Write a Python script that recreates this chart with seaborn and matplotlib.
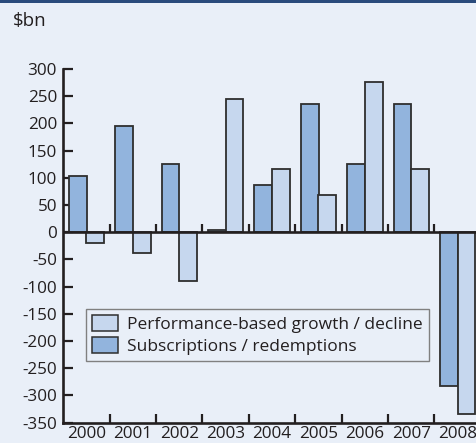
import numpy as np
import pandas as pd
import seaborn as sns
import matplotlib.pyplot as plt
from matplotlib.patches import Patch, Rectangle

# values ($bn)
years = ['2000', '2001', '2002', '2003', '2004', '2005', '2006', '2007', '2008']
subscriptions = [104, 195, 125, 5, 86, 235, 125, 236, -282]
performance = [-20, -38, -89, 245, 116, 68, 277, 117, -334]
y_ticks = list(range(-350, 301, 50))

subs_label = 'Subscriptions / redemptions'
perf_label = 'Performance-based growth / decline'

bg = '#E9EFF8'
c_subs = '#92B4DD'
c_perf = '#C6D7EE'
dark = '#231F20'

df = pd.DataFrame({
    'year': years + years,
    'value': subscriptions + performance,
    'series': [subs_label] * len(years) + [perf_label] * len(years),
})

sns.set_theme(style='ticks')
plt.rcParams['font.family'] = ['Open Sans', 'DejaVu Sans']

W, H = 477, 443
fig = plt.figure(figsize=(W / 100, H / 100), dpi=100, facecolor=bg)
# dark strip along the top edge
fig.add_artist(Rectangle((0, 1 - 2.5 / H), 1, 2.5 / H, transform=fig.transFigure,
                         color='#2A4B7C', lw=0))

left, right, top, bottom = 63.3, 477, 69, 422.7
ax = fig.add_axes([left / W, 1 - bottom / H, (right - left) / W, (bottom - top) / H])
ax.set_facecolor(bg)

sns.barplot(data=df, x='year', y='value', hue='series',
            hue_order=[subs_label, perf_label], palette=[c_subs, c_perf],
            width=0.76, saturation=1, edgecolor='#2E2E2E', linewidth=1.3,
            legend=False, ax=ax)

ax.set_xlim(-0.5, -0.5 + (right - left) / 46.4)
ax.set_ylim(-350, 300)
ax.set_yticks(y_ticks)
ax.set_yticklabels([str(v) for v in y_ticks])
ax.set_xlabel('')
ax.set_ylabel('')

for s in ['top', 'right']:
    ax.spines[s].set_visible(False)
for s in ['left', 'bottom']:
    ax.spines[s].set_linewidth(1.9)
    ax.spines[s].set_color(dark)

# year labels centred on groups, tick marks at group boundaries
bounds = np.arange(len(years) - 1) + 0.5
ax.set_xticks(range(len(years)))
ax.set_xticklabels(years)
ax.set_xticks(bounds, minor=True)
ax.tick_params(axis='x', which='major', length=0, pad=2.5, labelsize=12.3, colors=dark)
ax.tick_params(axis='x', which='minor', length=6.5, width=1.6, direction='in', color=dark)
ax.tick_params(axis='y', length=7, width=1.6, direction='in', pad=4.5,
               labelsize=12.3, colors=dark)

# zero line with its own boundary ticks
ax.axhline(0, color=dark, lw=1.9, zorder=3)
ax.vlines(bounds, 0, 15, color=dark, lw=1.6, zorder=3)

handles = [Patch(facecolor=c_perf, edgecolor='#2E2E2E', lw=1.1, label=perf_label),
           Patch(facecolor=c_subs, edgecolor='#2E2E2E', lw=1.1, label=subs_label)]
leg = ax.legend(handles=handles, loc='upper left', bbox_to_anchor=(0.054, 0.321),
                borderaxespad=0, fontsize=12.5, handlelength=1.5, handleheight=1.0,
                handletextpad=0.55, labelspacing=0.25, borderpad=0.35,
                fancybox=False, framealpha=1, facecolor=bg, edgecolor='#808080')
leg.get_frame().set_linewidth(1.0)
for t in leg.get_texts():
    t.set_color(dark)

fig.text(13.3 / W, 1 - 12 / H, r'\$bn', ha='left', va='top', fontsize=13.5, color=dark)

fig.savefig('out.png', dpi=100, facecolor=bg)
